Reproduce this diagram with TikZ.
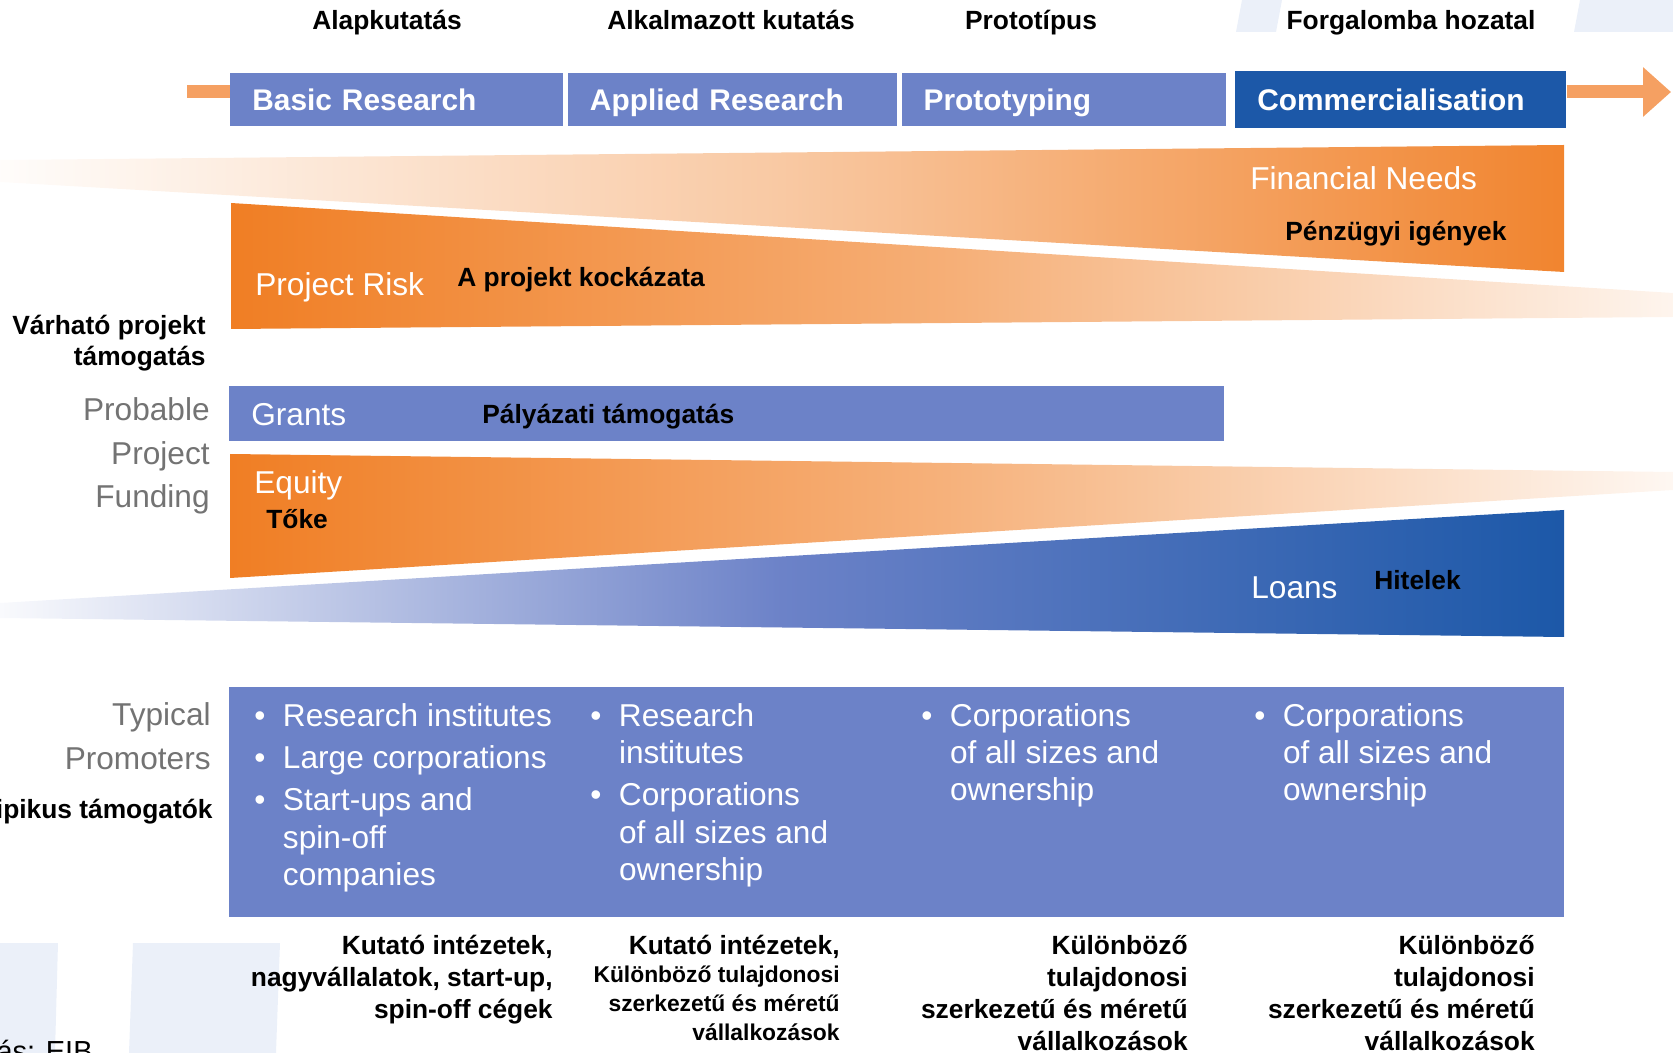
\documentclass[tikz,border=0pt]{standalone}
\usepackage{fontspec}
\setmainfont{Liberation Sans}
\usetikzlibrary{arrows.meta}
\usetikzlibrary{positioning}

\definecolor{hdrblue}{RGB}{108,130,200}
\definecolor{commblue}{RGB}{28,88,168}
\definecolor{fundorange}{RGB}{240,126,36}
\definecolor{arroworange}{RGB}{245,160,98}
\definecolor{greytext}{RGB}{115,115,115}
\definecolor{bgblue}{RGB}{235,240,249}

\newcommand{\hufont}{\fontsize{15}{18.2}\selectfont\bfseries}
\newcommand{\husmall}{\fontsize{13}{16.5}\selectfont\bfseries}
\newcommand{\enfont}{\fontsize{18}{21.3}\selectfont}
\newcommand{\hdrfont}{\fontsize{17}{20}\selectfont\bfseries}

\tikzset{
  hdrbox/.style={fill=hdrblue, text=white, font=\hdrfont, align=left, inner xsep=0.44cm, inner ysep=0pt,
    minimum height=1.06cm, text height=12.2pt, text depth=0pt, anchor=north west},
  barlabel/.style={text=white, font=\enfont, inner sep=0pt, anchor=base west},
  hulabel/.style={text=black, font=\hufont, inner sep=0pt},
  greylabel/.style={text=greytext, font=\fontsize{18}{25}\selectfont, align=right, inner sep=0pt, anchor=base east},
  promolist/.style={text=white, font=\enfont, inner sep=0pt, anchor=base west},
  flowarrow/.style={draw=arroworange, line width=0.26cm},
}

\begin{document}
\begin{tikzpicture}[x=0.02cm, y=-0.02cm]
	% frame: 1673 x 1053 px, 1 px = 0.02cm
	\useasboundingbox (0,0) rectangle (1673,1053);
	\clip (0,0) rectangle (1673,1053);
	
	% slide background stripes
	\fill[bgblue] (1242,0) -- (1282,0) -- (1276,32) -- (1236,32) -- cycle;
	\fill[bgblue] (1580,0) -- (1673,0) -- (1673,32) -- (1574,32) -- cycle;
	\fill[bgblue] (0,943) -- (58,943) -- (55,1053) -- (0,1053) -- cycle;
	\fill[bgblue] (133,943) -- (280,943) -- (276,1053) -- (129,1053) -- cycle;
	
	% wedges
	% financial needs
	\shade[left color=fundorange!2, right color=fundorange!95, middle color=fundorange!42]
		(0,160) -- (1564,145) -- (1564,272) -- (0,182) -- cycle;
	% project risk
	\shade[left color=fundorange, right color=fundorange!8, middle color=fundorange!62]
		(231,203) -- (1673,293) -- (1673,317) -- (231,329) -- cycle;
	% equity
	\shade[left color=fundorange, right color=fundorange!6, middle color=fundorange!60]
		(230,454) -- (1673,472) -- (1673,490) -- (230,578) -- cycle;
	% loans
	\shade[left color=hdrblue!4, right color=commblue, middle color=hdrblue]
		(0,603) -- (1564,510) -- (1564,637) -- (0,618) -- cycle;
	
	% phases
	\node[hdrbox, text width=5.78cm] (basic) at (230,73) {Basic Research};
	\node[hdrbox, text width=5.70cm, right=0.08cm of basic] (applied) {Applied Research};
	\node[hdrbox, text width=5.60cm, right=0.08cm of applied] (proto) {Prototyping};
	\node[hdrbox, fill=commblue, text width=5.74cm, minimum height=1.14cm, right=0.18cm of proto] (comm) {Commercialisation};
	
	\coordinate (stubL) at (187,92);
	\coordinate (tipR) at (1671,92);
	\draw[flowarrow] (stubL) -- (stubL -| basic.west);
	\draw[flowarrow, -{Triangle[length=0.56cm, width=0.96cm]}] (comm.east |- tipR) -- (tipR);
	
	% funding
	\node[hdrbox, font=\enfont, text width=19.02cm, minimum height=1.1cm, text height=12.9pt] (grants) at (229,386) {Grants};
	\node[fill=hdrblue, minimum width=26.7cm, minimum height=4.6cm, inner sep=0pt, anchor=north west] (promo) at (229,687) {};
	
	\node[barlabel] (needs) at (1250,190) {Financial Needs};
	\node[barlabel] (risk) at (255,296) {Project Risk};
	\node[barlabel] (equity) at (254,494) {Equity};
	\node[barlabel] (loans) at (1251,599) {Loans};
	
	% promoters
	\node[promolist] (promoA) at (254,726) {\begin{tabular}[t]{@{}l@{\hspace{10pt}}l@{}}
		\textbullet & Research institutes\\[2.8pt]
		\textbullet & Large corporations\\[2.8pt]
		\textbullet & Start-ups and\\
		& spin-off\\
		& companies
	\end{tabular}};
	\node[promolist] (promoB) at (590,726) {\begin{tabular}[t]{@{}l@{\hspace{10pt}}l@{}}
		\textbullet & Research\\
		& institutes\\[2.8pt]
		\textbullet & Corporations\\
		& of all sizes and\\
		& ownership
	\end{tabular}};
	\node[promolist] (promoC) at (921,726) {\begin{tabular}[t]{@{}l@{\hspace{10pt}}l@{}}
		\textbullet & Corporations\\
		& of all sizes and\\
		& ownership
	\end{tabular}};
	\node[promolist] (promoD) at (1254,726) {\begin{tabular}[t]{@{}l@{\hspace{10pt}}l@{}}
		\textbullet & Corporations\\
		& of all sizes and\\
		& ownership
	\end{tabular}};
	
	% side labels (base = last line)
	\node[greylabel] (probfund) at (210,508) {Probable\\Project\\Funding};
	\node[greylabel] (typprom) at (211,769) {Typical\\Promoters};
	
	% hungarian labels
	\node[hulabel, anchor=base] (alap) at (387,30) {Alapkutatás};
	\node[hulabel, anchor=base] (alkalm) at (731,30) {Alkalmazott kutatás};
	\node[hulabel, anchor=base] (prototip) at (1031,30) {Prototípus};
	\node[hulabel, anchor=base] (forgalom) at (1411,30) {Forgalomba hozatal};
	
	\node[hulabel, anchor=base west] (needshu) at (1285,241) {Pénzügyi igények};
	\node[hulabel, anchor=base west] (riskhu) at (457,287) {A projekt kockázata};
	\node[hulabel, anchor=base west] (grantshu) at (482,424) {Pályázati támogatás};
	\node[hulabel, anchor=base west] (equityhu) at (266,529) {Tőke};
	\node[hulabel, anchor=base west] (loanshu) at (1374,590) {Hitelek};
	
	\node[hulabel, align=right, anchor=base east] (expfund) at (206,366) {Várható projekt\\támogatás};
	\node[hulabel, anchor=base east] (tipprom) at (213,818) {Tipikus támogatók};
	
	\node[hulabel, align=right, anchor=base east] (promoAhu) at (553,1018) {Kutató intézetek,\\nagyvállalatok, start-up,\\spin-off cégek};
	\node[hulabel, anchor=base east] (promoBhu) at (840,954) {Kutató intézetek,};
	\node[hulabel, font=\husmall, align=right, anchor=base east] (promoBhub) at (840,1040) {Különböző tulajdonosi\\szerkezetű és méretű\\vállalkozások};
	\node[hulabel, align=right, anchor=base east] (promoChu) at (1188,1050) {Különböző\\tulajdonosi\\szerkezetű és méretű\\vállalkozások};
	\node[hulabel, align=right, anchor=base east] (promoDhu) at (1535,1050) {Különböző\\tulajdonosi\\szerkezetű és méretű\\vállalkozások};
	
	% source, cut by the frame
	\node[anchor=base east, font=\fontsize{16.5}{20}\selectfont, inner sep=0pt] (source) at (93,1061) {Forrás: EIB};
\end{tikzpicture}
\end{document}
